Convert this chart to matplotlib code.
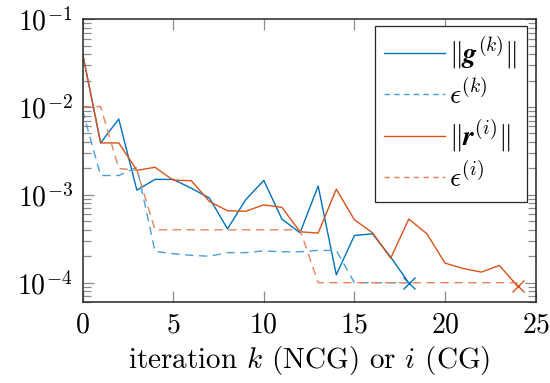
import numpy as np
import matplotlib
matplotlib.use('Agg')
import matplotlib.pyplot as plt
from matplotlib.lines import Line2D

# NCG outer iterations
k_iter = list(range(19))
g_norm = [0.041, 0.0039, 0.0073, 0.00113, 0.0015, 0.0015, 0.00119, 0.00092, 0.00041,
          0.00088, 0.00146, 0.00053, 0.00037, 0.00126, 0.000123, 0.000345, 0.00036,
          0.000196, 0.0000993]
eps_k = [0.0092, 0.00166, 0.00166, 0.00206, 0.000227, 0.000214, 0.000205, 0.0002,
         0.00022, 0.00022, 0.00023, 0.000225, 0.000225, 0.000233, 0.000233, 0.0001,
         0.0001, 0.0001, 0.0001]

# CG iterations
i_iter = list(range(25))
r_norm = [0.041, 0.0039, 0.0039, 0.0019, 0.00206, 0.00147, 0.00145, 0.00084, 0.00066,
          0.00065, 0.00077, 0.00072, 0.00038, 0.000367, 0.00116, 0.00052, 0.00037,
          0.00019, 0.00053, 0.00036, 0.000167, 0.000145, 0.000132, 0.000157, 0.000091]
eps_i = [0.0101, 0.0101, 0.002, 0.0019, 0.0004, 0.0004, 0.0004, 0.0004, 0.0004,
         0.0004, 0.0004, 0.0004, 0.0004, 0.0001, 0.0001, 0.0001, 0.0001, 0.0001,
         0.0001, 0.0001, 0.0001, 0.0001, 0.0001, 0.0001, 0.0001]

blue = '#0072BD'
orange = '#D95319'
blue_l = '#4A9FD8'
orange_l = '#E8845C'

plt.rcParams['font.family'] = ['cmr10', 'DejaVu Serif']
plt.rcParams['mathtext.fontset'] = 'cm'
plt.rcParams['axes.formatter.use_mathtext'] = True

fig = plt.figure(figsize=(5.5, 3.83), dpi=100)
ax = fig.add_axes([0.150, 0.211, 0.824, 0.739])

dash = (0, (6, 4))
ax.plot(k_iter, g_norm, color=blue, lw=1.0, marker='x', markevery=[-1], ms=8)
ax.plot(k_iter, eps_k, color=blue_l, lw=1.0, ls=dash)
ax.plot(i_iter, r_norm, color=orange, lw=1.0, marker='x', markevery=[-1], ms=8)
ax.plot(i_iter, eps_i, color=orange_l, lw=1.0, ls=dash)

ax.set_yscale('log')
ax.set_xlim(0, 25)
ax.set_ylim(6e-5, 1e-1)
ax.set_xticks([0, 5, 10, 15, 20, 25])
ax.tick_params(which='both', direction='in', top=True, right=True, color='0.55',
               labelsize=20, width=0.9)
ax.tick_params(which='major', length=8, pad=7)
ax.tick_params(which='minor', length=5.5)
for s in ax.spines.values():
    s.set_linewidth(1.1)
    s.set_color('0.15')

ax.set_xlabel(r'iteration $k$ (NCG) or $i$ (CG)', fontsize=21, labelpad=4)

handles = [Line2D([], [], color=blue, lw=1.0),
           Line2D([], [], color=blue_l, lw=1.0, ls=(0, (4, 3))),
           Line2D([], [], color=orange, lw=1.0),
           Line2D([], [], color=orange_l, lw=1.0, ls=(0, (4, 3)))]
labels = [r'$\|\boldsymbol{g}^{(k)}\|$', r'$\epsilon^{(k)}$',
          r'$\|\boldsymbol{r}^{(i)}\|$', r'$\epsilon^{(i)}$']
leg = ax.legend(handles, labels, loc='upper right', bbox_to_anchor=(0.98, 0.975),
                borderaxespad=0, fontsize=20, frameon=True, fancybox=False,
                framealpha=1, edgecolor='0.15', handlelength=2.2, labelspacing=0.3,
                borderpad=0.33, handletextpad=0.15)
leg.get_frame().set_linewidth(0.9)

fig.savefig('out.png', dpi=100)
